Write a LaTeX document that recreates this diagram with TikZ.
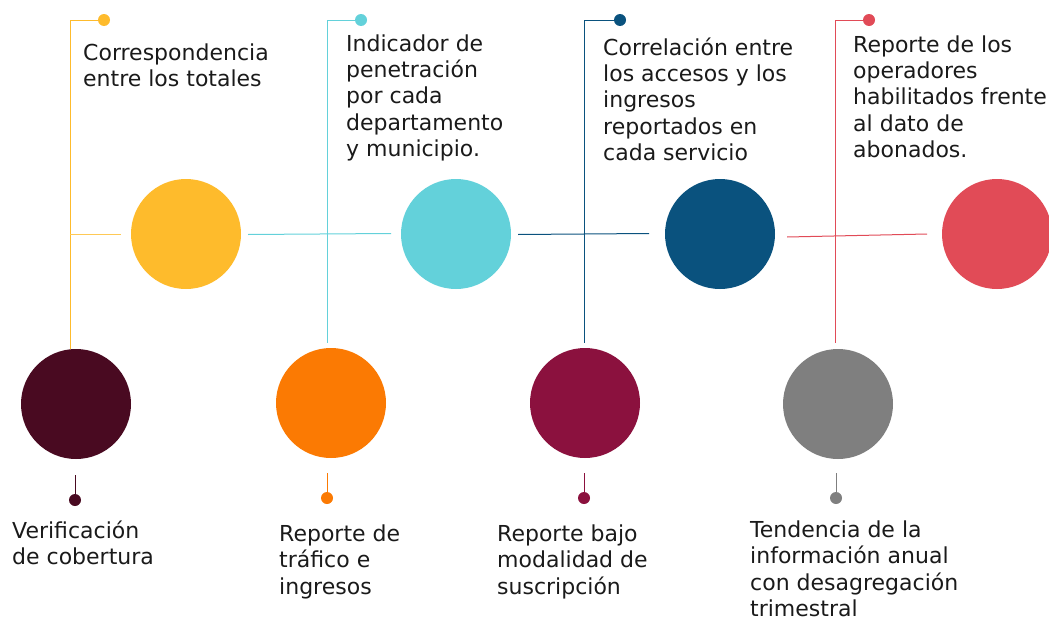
\documentclass[tikz,border=0pt]{standalone}
\usepackage{fontspec}
\setmainfont{DejaVu Sans}
\definecolor{cYellow}{HTML}{FEBB2C}
\definecolor{cCyan}{HTML}{63D1DA}
\definecolor{cBlue}{HTML}{0A527E}
\definecolor{cRed}{HTML}{E14B57}
\definecolor{cMaroon}{HTML}{490A21}
\definecolor{cOrange}{HTML}{FB7A03}
\definecolor{cCrimson}{HTML}{8B113E}
\definecolor{cGray}{HTML}{7F7F7F}
\definecolor{cText}{HTML}{1A1A1A}
\tikzset{
  bigdot/.style={circle, minimum size=110pt, inner sep=0pt, draw=none, fill=#1},
  smalldot/.style={circle, minimum size=12pt, inner sep=0pt, draw=none, fill=#1},
  conn/.style={line width=1pt, draw=#1},
  label/.style={anchor=north west, inner sep=0pt, align=left, text=cText,
    font=\fontsize{22}{26.3}\selectfont}
}
\begin{document}
\begin{tikzpicture}[x=1pt,y=-1pt]
\useasboundingbox (0,0) rectangle (1049,621);
\clip (0,0) rectangle (1049,621);
% top row circles
\node[bigdot=cYellow] (c1) at (186,234) {};
\node[bigdot=cCyan] (c2) at (456,234) {};
\node[bigdot=cBlue] (c3) at (720,234) {};
\node[bigdot=cRed] (c4) at (997,234) {};
% bottom row circles
\node[bigdot=cMaroon] (b1) at (76,404) {};
\node[bigdot=cOrange] (b2) at (331,403) {};
\node[bigdot=cCrimson] (b3) at (585,403) {};
\node[bigdot=cGray] (b4) at (838,404) {};
% top small dots
\node[smalldot=cYellow] (t1) at (104,20) {};
\node[smalldot=cCyan] (t2) at (361,20) {};
\node[smalldot=cBlue] (t3) at (620,20) {};
\node[smalldot=cRed] (t4) at (869,20) {};
% bottom small dots
\node[smalldot=cMaroon] (d1) at (75,500) {};
\node[smalldot=cOrange] (d2) at (327,498) {};
\node[smalldot=cCrimson] (d3) at (584,498) {};
\node[smalldot=cGray] (d4) at (836,498) {};
% corner and stub coordinates
\coordinate (k1) at (70,20);
\coordinate (k2) at (327,20);
\coordinate (k3) at (584,20);
\coordinate (k4) at (835,20);
\coordinate (e1) at (70,349);
\coordinate (e2) at (327,343);
\coordinate (e3) at (584,343);
\coordinate (e4) at (835,343);
\coordinate (s1) at (75,475);
\coordinate (s2) at (327,473);
\coordinate (s3) at (584,473);
\coordinate (s4) at (836,473);
\coordinate (h1a) at (70,234);
\coordinate (h1b) at (121,234);
\coordinate (h2a) at (248,234.5);
\coordinate (h2b) at (391,233.5);
\coordinate (h3a) at (518,234.5);
\coordinate (h3b) at (649,233.5);
\coordinate (h4a) at (787,237);
\coordinate (h4b) at (927,234);
% connectors
\draw[conn=cYellow] (t1) -- (k1) -- (e1);
\draw[conn=cCyan] (t2) -- (k2) -- (e2);
\draw[conn=cBlue] (t3) -- (k3) -- (e3);
\draw[conn=cRed] (t4) -- (k4) -- (e4);
\draw[conn=cYellow!80] (h1a) -- (h1b);
\draw[conn=cCyan] (h2a) -- (h2b);
\draw[conn=cBlue] (h3a) -- (h3b);
\draw[conn=cRed] (h4a) -- (h4b);
\draw[conn=cMaroon] (s1) -- (d1);
\draw[conn=cOrange] (s2) -- (d2);
\draw[conn=cCrimson] (s3) -- (d3);
\draw[conn=cGray] (s4) -- (d4);
% texts
\node[label] (l1) at (83,41.5) {\strut Correspondencia\\entre los totales};
\node[label] (l2) at (346,32.5) {\strut Indicador de\\penetración\\por cada\\departamento\\y municipio.};
\node[label] (l3) at (603,36.5) {\strut Correlación entre\\los accesos y los\\ingresos\\reportados en\\cada servicio};
\node[label] (l4) at (853,33.5) {\strut Reporte de los\\operadores\\habilitados frente\\al dato de\\abonados.};
\node[label] (l5) at (12,520) {\strut Verificación\\de cobertura};
\node[label] (l6) at (279,523) {\strut Reporte de\\tráfico e\\ingresos};
\node[label] (l7) at (497,523) {\strut Reporte bajo\\modalidad de\\suscripción};
\node[label] (l8) at (750,519) {\strut Tendencia de la\\información anual\\con desagregación\\trimestral};
\end{tikzpicture}
\end{document}
